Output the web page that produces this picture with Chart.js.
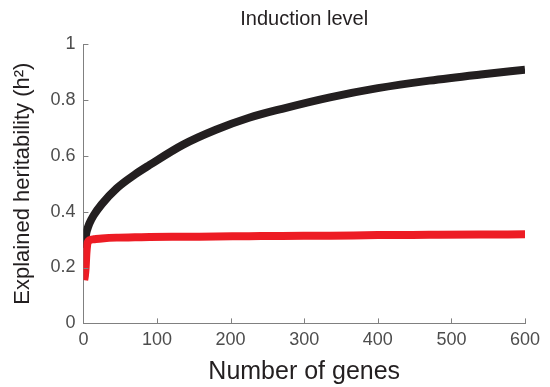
<!DOCTYPE html>
<html>
<head>
<meta charset="utf-8">
<script src="https://cdn.jsdelivr.net/npm/chart.js@4"></script>
<style>
  html, body { margin: 0; padding: 0; background: #fff; }
  #wrap { width: 550px; height: 387px; }
</style>
</head>
<body>
<div id="wrap"><canvas id="h2Chart"></canvas></div>
<script>
// number of genes along the x axis
const genes = [1, 2, 3, 4, 5, 6, 8, 14, 25, 45, 70, 90, 135, 180, 225, 270, 335, 400, 470, 540, 600];
// explained heritability, all genes
const h2All = [0.27, 0.295, 0.31, 0.325, 0.335, 0.343, 0.357, 0.387, 0.427, 0.483, 0.533, 0.567, 0.639, 0.693, 0.736, 0.768, 0.809, 0.842, 0.869, 0.891, 0.908];
// explained heritability, induction genes
const h2Induction = [0.155, 0.17, 0.20, 0.25, 0.28, 0.291, 0.298, 0.301, 0.304, 0.307, 0.308, 0.309, 0.310, 0.311, 0.312, 0.313, 0.314, 0.316, 0.317, 0.318, 0.319];
const xTicks = [0, 100, 200, 300, 400, 500, 600];
const yTicks = [0, 0.2, 0.4, 0.6, 0.8, 1];
const chartTitle = 'Induction level';

const toPoints = ys => genes.map((g, i) => ({ x: g, y: ys[i] }));
const axisGrey = '#808080';
const textGrey = '#4d4d4d';
const fontFamily = 'Liberation Sans, Arial, sans-serif';

// MATLAB-style ticks pointing into the plot, plus a title centred on the axes
const axesDecor = {
    id: 'axesDecor',
    afterDraw(chart) {
        const { ctx, chartArea, scales } = chart;
        ctx.save();
        ctx.strokeStyle = axisGrey;
        ctx.lineWidth = 1;
        ctx.beginPath();
        xTicks.forEach(v => {
            const px = Math.round(scales.x.getPixelForValue(v)) + 0.5;
            ctx.moveTo(px, chartArea.bottom);
            ctx.lineTo(px, chartArea.bottom - 5);
        });
        yTicks.forEach(v => {
            const py = Math.round(scales.y.getPixelForValue(v)) + 0.5;
            ctx.moveTo(chartArea.left, py);
            ctx.lineTo(chartArea.left + 5, py);
        });
        ctx.stroke();

        ctx.fillStyle = '#231f20';
        ctx.font = '20px ' + fontFamily;
        ctx.textAlign = 'center';
        ctx.textBaseline = 'middle';
        ctx.fillText(chartTitle, (chartArea.left + chartArea.right) / 2, 19);
        ctx.restore();
    }
};

const ctx = document.getElementById('h2Chart').getContext('2d');
const h2Chart = new Chart(ctx, {
    type: 'line',
    data: {
        datasets: [
            {
                label: 'All genes',
                data: toPoints(h2All),
                borderColor: '#231f20',
                borderWidth: 8,
                pointRadius: 0,
                cubicInterpolationMode: 'monotone',
                borderCapStyle: 'butt',
                order: 2
            },
            {
                label: 'Induction genes',
                data: toPoints(h2Induction),
                borderColor: '#ed1c24',
                borderWidth: 8,
                pointRadius: 0,
                cubicInterpolationMode: 'monotone',
                borderCapStyle: 'butt',
                order: 1
            }
        ]
    },
    options: {
        responsive: true,
        maintainAspectRatio: false,
        animation: false,
        layout: { padding: { top: 44, right: 25, bottom: 0, left: 10 } },
        plugins: {
            legend: { display: false },
            tooltip: { enabled: false },
            title: { display: false }
        },
        scales: {
            x: {
                type: 'linear',
                min: 0,
                max: 600,
                afterBuildTicks: s => { s.ticks = xTicks.map(v => ({ value: v })); },
                grid: { drawOnChartArea: false, drawTicks: false },
                border: { display: true, color: axisGrey, width: 1 },
                ticks: {
                    color: textGrey,
                    padding: 6,
                    maxRotation: 0,
                    font: { family: fontFamily, size: 18 }
                },
                title: {
                    display: true,
                    text: 'Number of genes',
                    color: '#231f20',
                    font: { family: fontFamily, size: 25 },
                    padding: { top: 0, bottom: 0 }
                }
            },
            y: {
                min: 0,
                max: 1,
                afterBuildTicks: s => { s.ticks = yTicks.map(v => ({ value: v })); },
                grid: { drawOnChartArea: false, drawTicks: false },
                border: { display: true, color: axisGrey, width: 1 },
                ticks: {
                    color: textGrey,
                    padding: 8,
                    font: { family: fontFamily, size: 18 },
                    callback: v => String(v)
                },
                title: {
                    display: true,
                    text: 'Explained heritability (h²)',
                    color: '#231f20',
                    font: { family: fontFamily, size: 22 },
                    padding: { top: 0, bottom: 6 }
                }
            }
        }
    },
    plugins: [axesDecor]
});
</script>
</body>
</html>
